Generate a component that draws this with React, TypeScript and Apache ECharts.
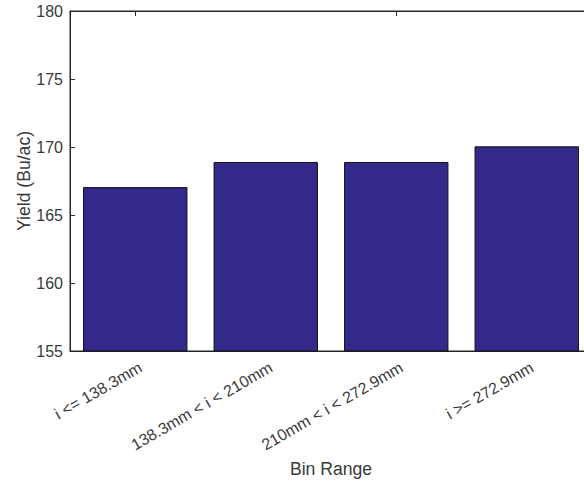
import React, { useEffect, useRef } from "react";
import * as echarts from "echarts";

const categories = ["i <= 138.3mm", "138.3mm < i < 210mm", "210mm < i < 272.9mm", "i >= 272.9mm"];
const yieldValues = [167.05, 168.9, 168.9, 170.05];
const yTicks = { min: 155, max: 180, interval: 5 };
const xAxisTitle = "Bin Range";
const yAxisTitle = "Yield (Bu/ac)";

const FONT = "'Liberation Sans', Arial, Helvetica, sans-serif";
const AXIS = "#262626";
const TEXT = "#3a3a3a";

export default function App() {
  const ref = useRef<HTMLDivElement>(null);
  useEffect(() => {
    if (!ref.current) return;
    const chart = echarts.init(ref.current, undefined, { renderer: "svg" });
    chart.setOption({
      animation: false,
      backgroundColor: "#ffffff",
      textStyle: { fontFamily: FONT },
      grid: { left: 70, right: 8, top: 11, bottom: 125, show: true, borderColor: AXIS, borderWidth: 1 },
      xAxis: [
        {
          type: "category",
          data: categories,
          position: "bottom",
          boundaryGap: true,
          axisLine: { show: true, lineStyle: { color: AXIS, width: 1 } },
          axisTick: { show: true, inside: true, alignWithLabel: true, length: 5, lineStyle: { color: AXIS } },
          axisLabel: { rotate: 30, fontSize: 16, color: TEXT, margin: 18, padding: [0, -6, 0, 0], fontFamily: FONT, interval: 0 },
          name: xAxisTitle,
          nameLocation: "middle",
          nameGap: 118,
          nameMoveOverlap: false,
          nameTextStyle: { fontSize: 17.6, color: TEXT, fontFamily: FONT, verticalAlign: "middle" },
        },
        {
          type: "category",
          data: categories,
          position: "top",
          boundaryGap: true,
          axisLine: { show: true, lineStyle: { color: AXIS, width: 1 } },
          axisTick: { show: true, inside: true, alignWithLabel: true, length: 5, lineStyle: { color: AXIS } },
          axisLabel: { show: false },
        },
      ],
      yAxis: {
        type: "value",
        min: yTicks.min,
        max: yTicks.max,
        interval: yTicks.interval,
        axisLine: { show: true, lineStyle: { color: AXIS, width: 1 } },
        axisTick: { show: true, inside: true, length: 5, lineStyle: { color: AXIS } },
        axisLabel: { fontSize: 16, color: TEXT, margin: 7, fontFamily: FONT },
        splitLine: { show: false },
        name: yAxisTitle,
        nameLocation: "middle",
        nameGap: 46,
        nameMoveOverlap: false,
        nameTextStyle: { fontSize: 17.6, color: TEXT, fontFamily: FONT, verticalAlign: "middle" },
      },
      series: [
        {
          type: "bar",
          data: yieldValues,
          xAxisIndex: 0,
          barCategoryGap: "20%",
          itemStyle: { color: "#33298a", borderColor: "#111111", borderWidth: 1 },
        },
      ],
    });
    return () => chart.dispose();
  }, []);
  return (
    <div style={{ position: "fixed", left: 0, top: 0, width: 584, height: 483, overflow: "hidden", background: "#fff" }}>
      <div ref={ref} style={{ width: 600, height: 483 }} />
    </div>
  );
}
